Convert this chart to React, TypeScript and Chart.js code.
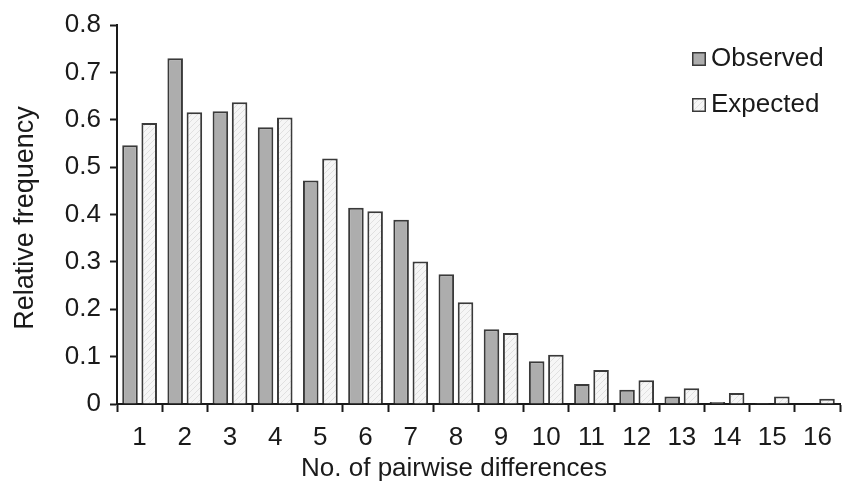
import React, { useEffect, useRef } from "react";
import { Chart, registerables } from "chart.js";

Chart.register(...registerables);

const categories = ["1", "2", "3", "4", "5", "6", "7", "8", "9", "10", "11", "12", "13", "14", "15", "16"];
const observed = [0.546, 0.730, 0.618, 0.584, 0.472, 0.414, 0.389, 0.274, 0.158, 0.090, 0.042, 0.030, 0.016, 0.004, 0.002, 0];
const expected = [0.593, 0.616, 0.637, 0.605, 0.518, 0.407, 0.301, 0.215, 0.150, 0.104, 0.072, 0.050, 0.033, 0.023, 0.016, 0.011];
const seriesNames = ["Observed", "Expected"];
const yTicks = [0, 0.1, 0.2, 0.3, 0.4, 0.5, 0.6, 0.7, 0.8];
const xTitle = "No. of pairwise differences";
const yTitle = "Relative frequency";

const FONT = "'Liberation Sans', Arial, sans-serif";
const TEXT = "#1a1a1a";
const EDGE = "#3a3a3a";
const OBS_FILL = "#adadad";

function makeHatch(): CanvasPattern | string {
  const c = document.createElement("canvas");
  c.width = 6;
  c.height = 6;
  const g = c.getContext("2d");
  if (!g) return "#f2f2f2";
  g.fillStyle = "#f6f6f6";
  g.fillRect(0, 0, 6, 6);
  g.strokeStyle = "#e0e0e0";
  g.lineWidth = 1;
  g.beginPath();
  g.moveTo(0, 6);
  g.lineTo(6, 0);
  g.moveTo(-3, 3);
  g.lineTo(3, -3);
  g.moveTo(3, 9);
  g.lineTo(9, 3);
  g.stroke();
  const p = g.createPattern(c, "repeat");
  return p || "#f2f2f2";
}

export default function App() {
  const ref = useRef<HTMLCanvasElement | null>(null);

  useEffect(() => {
    const canvas = ref.current;
    if (!canvas) return;
    const hatch = makeHatch();

    const textPlugin = {
      id: "customText",
      afterDraw(chart: any) {
        const ctx = chart.ctx as CanvasRenderingContext2D;
        const fills = [OBS_FILL, hatch];
        ctx.save();
        ctx.font = `26px ${FONT}`;
        ctx.textBaseline = "alphabetic";
        ctx.textAlign = "left";
        seriesNames.forEach((name, i) => {
          const bx = 692;
          const by = 52 + i * 46;
          ctx.fillStyle = fills[i] as any;
          ctx.fillRect(bx, by, 14, 14);
          ctx.strokeStyle = EDGE;
          ctx.lineWidth = 1.5;
          ctx.strokeRect(bx + 0.75, by + 0.75, 12.5, 12.5);
          ctx.fillStyle = TEXT;
          ctx.fillText(name, 711, by + 14);
        });
        // x axis title
        ctx.textAlign = "center";
        ctx.fillText(xTitle, 454, 476);
        // y axis title
        ctx.save();
        ctx.font = `27px ${FONT}`;
        ctx.translate(33, 218);
        ctx.rotate(-Math.PI / 2);
        ctx.textAlign = "center";
        ctx.fillText(yTitle, 0, 0);
        ctx.restore();
        ctx.restore();
      },
    };

    const chart = new Chart(canvas, {
      type: "bar",
      data: {
        labels: categories,
        datasets: [
          {
            label: seriesNames[0],
            data: observed,
            backgroundColor: OBS_FILL,
            borderColor: EDGE,
            borderWidth: 2,
            categoryPercentage: 0.85,
            barPercentage: 0.81,
          },
          {
            label: seriesNames[1],
            data: expected,
            backgroundColor: hatch as any,
            borderColor: EDGE,
            borderWidth: 2,
            categoryPercentage: 0.85,
            barPercentage: 0.81,
          },
        ],
      },
      options: {
        responsive: false,
        animation: false,
        devicePixelRatio: 1,
        layout: { padding: { top: 25, right: 2, bottom: 0, left: 0 } },
        plugins: {
          legend: { display: false },
          tooltip: { enabled: false },
        },
        scales: {
          x: {
            grid: {
              display: true,
              offset: true,
              drawOnChartArea: false,
              drawTicks: true,
              tickLength: 8,
              tickWidth: 2,
              tickColor: "#1a1a1a",
            },
            border: { display: true, color: "#1a1a1a", width: 2 },
            ticks: {
              color: TEXT,
              font: { family: FONT, size: 26 },
              padding: 10,
              maxRotation: 0,
              autoSkip: false,
            },
            title: { display: false },
            afterFit(scale: any) {
              scale.height = 77;
            },
          },
          y: {
            min: 0,
            max: 0.8,
            afterBuildTicks(scale: any) {
              scale.ticks = yTicks.map((v) => ({ value: v }));
            },
            grid: {
              display: true,
              drawOnChartArea: false,
              drawTicks: true,
              tickLength: 7,
              tickWidth: 2,
              tickColor: "#1a1a1a",
            },
            border: { display: true, color: "#1a1a1a", width: 2 },
            ticks: {
              color: TEXT,
              font: { family: FONT, size: 26 },
              padding: 9,
              callback: (v: any) => (Number(v) === 0 ? "0" : Number(v).toFixed(1)),
            },
            title: { display: false },
            afterFit(scale: any) {
              scale.width = 117;
            },
          },
        },
      },
      plugins: [textPlugin],
    });

    return () => chart.destroy();
  }, []);

  return (
    <div style={{ position: "fixed", left: 0, top: 0, width: 842, height: 481, background: "#fff" }}>
      <canvas ref={ref} width={842} height={481} style={{ display: "block" }} />
    </div>
  );
}
